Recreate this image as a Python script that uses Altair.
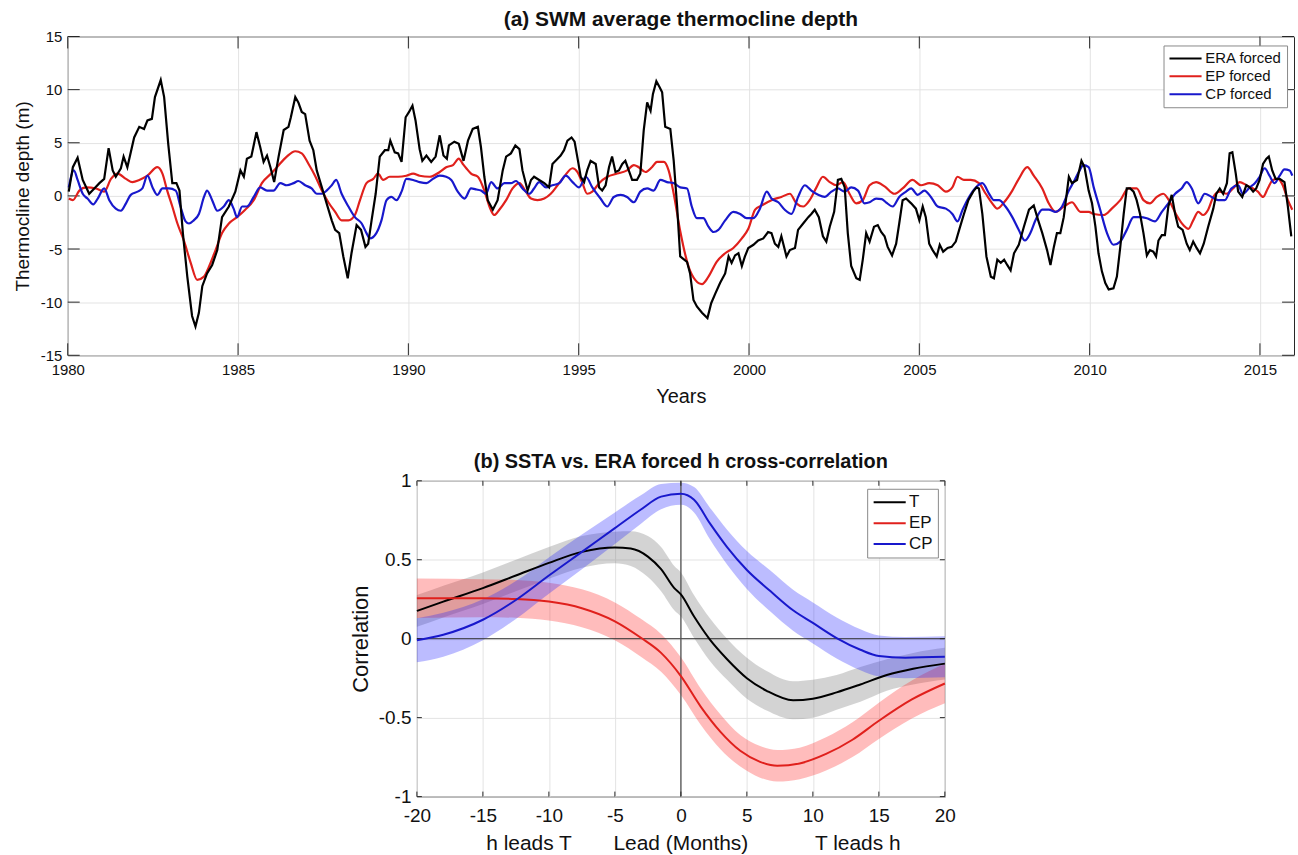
import altair as alt
import pandas as pd

FONT = "Liberation Sans"
INK = "#262626"
GRID = "#e3e3e3"
RED = "#e0201c"
BLUE = "#1818cc"

# ---------------- (a) SWM average thermocline depth ----------------
era_year = [
    1980.03, 1980.15, 1980.29, 1980.44, 1980.63, 1980.78, 1980.93, 1981.07, 1981.20, 1981.32,
    1981.41, 1981.56, 1981.64, 1981.75, 1981.95, 1982.10, 1982.24, 1982.34, 1982.47, 1982.56,
    1982.73, 1982.83, 1982.95, 1983.07, 1983.19, 1983.28, 1983.38, 1983.51, 1983.65, 1983.75,
    1983.85, 1983.95, 1984.09, 1984.24, 1984.39, 1984.53, 1984.73, 1984.92, 1985.07, 1985.17,
    1985.26, 1985.39, 1985.54, 1985.65, 1985.75, 1985.85, 1985.95, 1986.06, 1986.19, 1986.34,
    1986.48, 1986.55, 1986.68, 1986.77, 1986.87, 1986.97, 1987.10, 1987.21, 1987.31, 1987.46,
    1987.60, 1987.75, 1987.85, 1987.97, 1988.09, 1988.22, 1988.33, 1988.48, 1988.61, 1988.74,
    1988.82, 1988.92, 1989.04, 1989.16, 1989.31, 1989.41, 1989.47, 1989.60, 1989.70, 1989.80,
    1989.92, 1990.02, 1990.12, 1990.21, 1990.33, 1990.41, 1990.53, 1990.67, 1990.80, 1990.92,
    1991.03, 1991.13, 1991.19, 1991.35, 1991.48, 1991.62, 1991.75, 1991.89, 1992.04, 1992.13,
    1992.23, 1992.33, 1992.48, 1992.62, 1992.77, 1992.87, 1993.01, 1993.14, 1993.26, 1993.35,
    1993.50, 1993.60, 1993.69, 1993.84, 1993.99, 1994.13, 1994.23, 1994.38, 1994.47, 1994.57,
    1994.67, 1994.79, 1994.88, 1994.98, 1995.06, 1995.16, 1995.25, 1995.35, 1995.50, 1995.60,
    1995.69, 1995.79, 1995.89, 1995.98, 1996.08, 1996.18, 1996.28, 1996.37, 1996.47, 1996.57,
    1996.71, 1996.81, 1996.91, 1997.01, 1997.11, 1997.18, 1997.28, 1997.38, 1997.45, 1997.54,
    1997.69, 1997.79, 1997.89, 1997.98, 1998.18, 1998.27, 1998.37, 1998.47, 1998.62, 1998.78,
    1998.89, 1999.01, 1999.15, 1999.30, 1999.40, 1999.49, 1999.59, 1999.69, 1999.79, 1999.88,
    1999.98, 2000.13, 2000.27, 2000.42, 2000.56, 2000.66, 2000.76, 2000.86, 2000.95, 2001.10,
    2001.20, 2001.35, 2001.44, 2001.59, 2001.74, 2001.83, 2001.93, 2002.05, 2002.17, 2002.27,
    2002.37, 2002.50, 2002.61, 2002.71, 2002.81, 2002.90, 2003.00, 2003.15, 2003.25, 2003.34,
    2003.44, 2003.54, 2003.67, 2003.78, 2003.88, 2003.98, 2004.07, 2004.20, 2004.32, 2004.41,
    2004.51, 2004.61, 2004.76, 2004.90, 2005.00, 2005.10, 2005.19, 2005.29, 2005.39, 2005.51,
    2005.60, 2005.70, 2005.83, 2005.95, 2006.07, 2006.17, 2006.31, 2006.44, 2006.58, 2006.68,
    2006.75, 2006.85, 2006.97, 2007.10, 2007.19, 2007.29, 2007.39, 2007.49, 2007.58, 2007.68,
    2007.78, 2007.92, 2008.07, 2008.22, 2008.36, 2008.49, 2008.61, 2008.75, 2008.85, 2008.95,
    2009.04, 2009.14, 2009.24, 2009.39, 2009.48, 2009.63, 2009.76, 2009.85, 2009.97, 2010.07,
    2010.17, 2010.26, 2010.36, 2010.46, 2010.56, 2010.70, 2010.80, 2010.90, 2011.00, 2011.09,
    2011.19, 2011.29, 2011.38, 2011.48, 2011.58, 2011.68, 2011.77, 2011.87, 2011.95, 2012.02,
    2012.12, 2012.21, 2012.31, 2012.41, 2012.51, 2012.60, 2012.73, 2012.85, 2012.94, 2013.04,
    2013.14, 2013.24, 2013.35, 2013.48, 2013.63, 2013.72, 2013.82, 2013.92, 2014.03, 2014.11,
    2014.19, 2014.29, 2014.36, 2014.48, 2014.60, 2014.70, 2014.80, 2014.89, 2014.99, 2015.09,
    2015.19, 2015.26, 2015.36, 2015.46, 2015.58, 2015.72, 2015.82, 2015.92,
]
era_depth = [
    0.4, 2.7, 3.6, 1.5, 0.2, 0.7, 1.2, 1.6, 4.5, 2.4,
    1.8, 2.6, 3.7, 2.7, 5.5, 6.5, 6.3, 7.1, 7.25, 9.3,
    10.9, 9.3, 4.9, 1.2, 1.2, 0.5, -3.5, -7.6, -11.3, -12.3,
    -11.0, -8.5, -7.3, -6.5, -5.1, -2.0, -1.0, 0.4, 2.4, 1.8,
    3.5, 3.7, 6.0, 4.6, 3.2, 3.8, 2.7, 1.3, 3.7, 6.2,
    6.5, 7.4, 9.3, 8.8, 7.9, 7.7, 5.2, 4.3, 2.4, 0.8,
    -0.7, -2.3, -3.2, -3.5, -5.7, -7.75, -5.4, -2.75, -3.2, -4.8,
    -4.5, -2.3, 0.2, 3.7, 4.3, 4.3, 5.2, 4.1, 4.0, 3.2,
    7.4, 7.9, 8.5, 7.1, 4.4, 3.3, 3.8, 3.2, 3.7, 5.7,
    3.8, 3.5, 4.75, 5.1, 4.9, 3.3, 5.2, 6.3, 6.5, 4.6,
    1.8, -0.4, -1.3, -0.4, 2.4, 3.7, 4.0, 4.75, 4.4, 2.4,
    0.5, 1.5, 1.8, 1.5, 1.2, 0.8, 3.0, 3.5, 3.8, 4.3,
    5.2, 5.5, 5.1, 3.3, 1.8, 1.3, 2.4, 3.3, 3.0, 0.8,
    0.5, 1.0, 2.7, 3.7, 2.25, 2.4, 3.0, 3.3, 2.4, 1.5,
    1.5, 2.1, 6.2, 8.8, 8.0, 9.6, 10.8, 10.2, 9.75, 6.5,
    6.3, 3.3, -1.0, -5.7, -6.2, -7.3, -9.8, -10.4, -11.0, -11.5,
    -10.1, -9.2, -8.2, -7.3, -5.7, -6.3, -5.6, -5.4, -6.6, -5.7,
    -4.9, -4.6, -4.2, -4.0, -3.4, -3.5, -4.5, -4.8, -3.8, -5.7,
    -5.1, -4.9, -3.2, -2.6, -2.0, -1.7, -1.3, -2.0, -3.8, -4.3,
    -2.9, -1.5, 1.5, 1.6, 0.8, -3.5, -6.6, -7.75, -7.9, -6.0,
    -3.5, -4.3, -2.9, -2.75, -3.4, -3.8, -4.8, -5.6, -4.5, -2.6,
    -0.4, -0.25, -0.7, -1.2, -2.3, -1.0, -2.0, -4.5, -5.1, -5.7,
    -4.6, -5.25, -4.9, -4.8, -4.3, -3.2, -1.7, -0.4, 0.4, 0.8,
    0.7, -1.7, -5.7, -7.6, -7.75, -6.0, -6.3, -6.0, -6.5, -7.0,
    -5.4, -4.6, -2.9, -1.3, -0.9, -2.3, -3.5, -5.1, -6.5, -4.8,
    -3.5, -3.5, -2.0, 1.8, 1.2, 1.5, 3.3, 2.7, 0.5, -0.7,
    -2.9, -5.4, -7.1, -8.2, -8.8, -8.7, -7.6, -4.8, -1.7, 0.7,
    0.7, 0.4, -0.4, -1.7, -3.5, -5.6, -5.1, -5.25, -5.7, -4.2,
    -3.7, -3.7, -1.0, 0.1, -1.7, -2.9, -3.2, -4.5, -5.1, -4.3,
    -4.9, -5.4, -4.5, -2.9, -1.2, 0.2, 0.7, 0.2, 1.2, 4.0,
    4.1, 2.1, 0.4, -0.1, 1.0, 0.8, 0.4, 0.7, 1.5, 3.0,
    3.5, 3.7, 2.4, 1.6, 1.6, 1.3, -1.0, -3.8,
]

ep_year = [
    1980.03, 1980.15, 1980.34, 1980.54, 1980.83, 1981.07, 1981.27, 1981.46, 1981.71, 1981.90,
    1982.10, 1982.34, 1982.63, 1982.78, 1982.92, 1983.07, 1983.22, 1983.41, 1983.61, 1983.80,
    1984.00, 1984.14, 1984.34, 1984.53, 1984.73, 1984.97, 1985.21, 1985.46, 1985.70, 1985.97,
    1986.14, 1986.43, 1986.68, 1986.87, 1987.07, 1987.26, 1987.46, 1987.65, 1987.85, 1988.04,
    1988.24, 1988.43, 1988.58, 1988.77, 1988.97, 1989.11, 1989.26, 1989.45, 1989.70, 1989.94,
    1990.14, 1990.33, 1990.62, 1990.92, 1991.11, 1991.31, 1991.48, 1991.60, 1991.70, 1991.84,
    1992.04, 1992.23, 1992.38, 1992.52, 1992.67, 1992.87, 1993.06, 1993.26, 1993.45, 1993.60,
    1993.79, 1993.99, 1994.18, 1994.38, 1994.57, 1994.82, 1994.96, 1995.11, 1995.25, 1995.40,
    1995.60, 1995.84, 1996.13, 1996.42, 1996.62, 1996.76, 1996.96, 1997.15, 1997.30, 1997.50,
    1997.64, 1997.79, 1997.98, 1998.23, 1998.42, 1998.62, 1998.81, 1999.05, 1999.30, 1999.54,
    1999.79, 1999.98, 2000.18, 2000.37, 2000.66, 2000.95, 2001.20, 2001.39, 2001.59, 2001.78,
    2001.98, 2002.17, 2002.37, 2002.56, 2002.76, 2002.95, 2003.15, 2003.34, 2003.54, 2003.73,
    2003.98, 2004.27, 2004.51, 2004.80, 2005.05, 2005.29, 2005.54, 2005.78, 2005.97, 2006.12,
    2006.31, 2006.51, 2006.75, 2006.95, 2007.14, 2007.29, 2007.49, 2007.73, 2007.92, 2008.17,
    2008.36, 2008.61, 2008.80, 2009.00, 2009.24, 2009.48, 2009.73, 2009.97, 2010.12, 2010.41,
    2010.65, 2010.90, 2011.14, 2011.38, 2011.58, 2011.77, 2011.97, 2012.16, 2012.36, 2012.55,
    2012.75, 2012.90, 2013.04, 2013.19, 2013.33, 2013.48, 2013.63, 2013.82, 2014.02, 2014.21,
    2014.41, 2014.60, 2014.80, 2014.94, 2015.09, 2015.23, 2015.38, 2015.53, 2015.67, 2015.82,
    2015.95,
]
ep_depth = [
    -0.25, -0.4, 0.5, 0.8, 0.7, 0.4, 1.6, 2.1, 1.6, 1.3,
    1.5, 1.9, 2.7, 2.1, 0.5, -1.0, -2.6, -4.2, -6.3, -7.9,
    -7.6, -6.7, -5.1, -3.5, -2.6, -2.0, -1.3, -0.4, 1.2, 2.1,
    2.7, 3.7, 4.2, 4.0, 3.0, 1.9, 0.5, -0.6, -1.5, -2.3,
    -2.3, -1.8, -0.4, 1.2, 1.6, 2.1, 1.5, 1.8, 1.8, 1.9,
    2.1, 1.9, 1.8, 2.25, 2.7, 2.9, 3.5, 3.0, 2.6, 2.1,
    1.8, 0.5, -1.0, -1.8, -1.3, -0.4, 0.7, 1.2, 0.4, -0.25,
    -0.4, -0.25, 0.2, 1.0, 1.8, 2.6, 2.25, 1.2, 0.2, 0.4,
    1.2, 1.8, 2.1, 2.4, 2.9, 2.7, 2.25, 2.7, 3.2, 3.2,
    2.4, 0.2, -3.3, -6.7, -7.9, -8.3, -7.6, -6.2, -5.4, -4.9,
    -4.0, -3.1, -1.3, -0.9, -0.4, -0.1, 0.2, -0.7, -1.0, -0.4,
    0.8, 1.8, 1.3, 1.0, 1.3, 0.2, -0.7, -0.4, 1.0, 1.3,
    0.9, 0.2, 0.7, 1.5, 1.0, 1.2, 1.0, 0.4, 0.8, 1.8,
    1.5, 1.5, 1.2, 0.2, -0.7, -1.2, -0.6, 0.5, 1.6, 2.7,
    1.9, 0.7, -0.7, -1.5, -1.0, -0.6, -1.5, -1.5, -1.7, -1.8,
    -1.2, -0.4, 0.7, 0.7, -0.4, -0.7, -0.1, 0.2, -0.6, -1.8,
    -2.75, -3.1, -2.3, -1.5, -1.8, -1.3, -0.1, 0.4, 0.2, 0.7,
    1.3, 1.0, 0.7, 0.4, -0.1, 0.7, 1.5, 1.6, 1.0, -0.4,
    -1.3,
]

cp_year = [
    1980.03, 1980.18, 1980.29, 1980.44, 1980.58, 1980.75, 1980.88, 1981.07, 1981.22, 1981.41,
    1981.56, 1981.71, 1981.85, 1982.05, 1982.19, 1982.34, 1982.49, 1982.63, 1982.78, 1982.97,
    1983.17, 1983.31, 1983.46, 1983.56, 1983.70, 1983.85, 1984.00, 1984.09, 1984.24, 1984.39,
    1984.58, 1984.73, 1984.87, 1984.97, 1985.12, 1985.26, 1985.46, 1985.65, 1985.85, 1986.04,
    1986.24, 1986.43, 1986.63, 1986.77, 1986.97, 1987.16, 1987.31, 1987.46, 1987.60, 1987.75,
    1987.88, 1988.04, 1988.24, 1988.43, 1988.63, 1988.77, 1988.87, 1989.06, 1989.21, 1989.36,
    1989.50, 1989.65, 1989.80, 1989.94, 1990.14, 1990.33, 1990.53, 1990.72, 1990.92, 1991.11,
    1991.26, 1991.45, 1991.65, 1991.84, 1992.00, 1992.13, 1992.28, 1992.43, 1992.62, 1992.82,
    1993.01, 1993.16, 1993.35, 1993.55, 1993.69, 1993.84, 1994.04, 1994.23, 1994.43, 1994.62,
    1994.82, 1995.01, 1995.21, 1995.40, 1995.64, 1995.84, 1996.03, 1996.23, 1996.42, 1996.62,
    1996.81, 1997.01, 1997.20, 1997.40, 1997.59, 1997.79, 1997.98, 1998.18, 1998.32, 1998.47,
    1998.66, 1998.81, 1998.96, 1999.10, 1999.30, 1999.54, 1999.74, 1999.93, 2000.13, 2000.32,
    2000.52, 2000.66, 2000.86, 2001.05, 2001.25, 2001.44, 2001.64, 2001.83, 2002.03, 2002.22,
    2002.42, 2002.61, 2002.81, 2003.00, 2003.20, 2003.39, 2003.54, 2003.73, 2003.90, 2004.02,
    2004.22, 2004.41, 2004.61, 2004.76, 2004.95, 2005.15, 2005.34, 2005.54, 2005.78, 2005.97,
    2006.12, 2006.27, 2006.46, 2006.66, 2006.85, 2007.05, 2007.19, 2007.34, 2007.53, 2007.73,
    2007.92, 2008.10, 2008.26, 2008.41, 2008.61, 2008.80, 2009.00, 2009.19, 2009.39, 2009.53,
    2009.68, 2009.82, 2009.97, 2010.12, 2010.31, 2010.51, 2010.70, 2010.90, 2011.09, 2011.29,
    2011.48, 2011.68, 2011.92, 2012.12, 2012.31, 2012.51, 2012.70, 2012.85, 2013.00, 2013.19,
    2013.38, 2013.58, 2013.77, 2013.97, 2014.16, 2014.36, 2014.50, 2014.70, 2014.85, 2014.99,
    2015.14, 2015.28, 2015.43, 2015.58, 2015.72, 2015.87, 2015.95,
]
cp_depth = [
    0.8, 2.4, 1.5, 0.2, -0.25, -0.8, -0.25, 0.7, -0.4, -1.2,
    -1.4, -0.7, 0.1, 0.4, 0.7, 1.9, 0.8, 0.1, 0.7, 0.7,
    0.5, -1.0, -2.4, -2.6, -2.3, -1.7, -0.1, 0.5, -0.4, -1.4,
    -1.0, -0.4, -1.2, -2.0, -1.0, -1.0, -0.1, 0.8, 0.5, 0.5,
    1.2, 1.0, 1.2, 1.4, 1.0, 0.7, 0.2, 0.2, 0.5, 1.0,
    1.5, 0.2, -1.0, -2.0, -2.6, -3.5, -4.0, -3.5, -2.3, -0.4,
    -0.1, -0.4, 0.4, 1.6, 1.5, 1.3, 1.2, 1.6, 1.9, 1.8,
    1.5, 0.4, -0.25, 0.7, 0.6, 0.5, 0.2, 1.3, 0.7, 1.2,
    1.2, 1.4, 0.7, 0.2, 0.7, 1.3, 0.8, 1.0, 1.2, 1.9,
    1.3, 0.8, 1.8, 0.8, -0.25, -1.0, -0.1, 0.1, -0.1, -0.6,
    0.4, 0.7, 0.5, 1.5, 1.3, 1.2, 0.8, 0.7, -1.0, -2.1,
    -2.1, -2.9, -3.4, -3.2, -2.3, -1.5, -1.7, -2.1, -2.1, -1.2,
    0.4, -0.25, -0.6, -1.3, -1.7, -0.1, 1.0, 0.5, 0.1, -0.1,
    0.4, 0.7, 0.4, 0.8, 0.5, -0.7, -0.6, -0.25, -0.3, -0.6,
    -1.0, -0.1, 0.4, 0.7, 0.1, 0.5, -0.1, -1.0, -1.2, -1.7,
    -2.4, -1.3, -0.1, 0.8, 1.2, 0.2, -0.4, -0.4, -1.0, -2.0,
    -3.2, -4.2, -3.5, -2.3, -1.3, -1.3, -1.5, -1.0, 0.5, 1.3,
    2.25, 2.9, 2.7, 0.8, -1.3, -3.5, -4.6, -4.3, -3.2, -2.0,
    -2.0, -2.1, -2.4, -1.5, -0.7, 0.2, 0.7, 1.3, 0.7, -0.7,
    0.2, -0.1, -0.4, -0.4, 0.7, 1.0, 0.2, 0.8, 1.2, 1.8,
    2.6, 1.9, 1.2, 1.9, 2.5, 2.4, 1.9,
]

depth_series = ["ERA forced", "EP forced", "CP forced"]
depth_colors = ["#000000", RED, BLUE]
year_ticks = [1980, 1985, 1990, 1995, 2000, 2005, 2010, 2015]
depth_ticks = [-15, -10, -5, 0, 5, 10, 15]

# ---------------- (b) SSTA vs. ERA forced h cross-correlation ----------------
t_lag = [-20, -18, -15, -12.5, -10, -7.5, -5, -3.8, -2.5, -1.5, -0.5, 0, 1, 2.2,
         3.5, 5, 6.5, 8.5, 10, 11.8, 13.6, 15.6, 17.6, 20]
t_corr = [0.176, 0.235, 0.32, 0.40, 0.48, 0.55, 0.578, 0.571, 0.52, 0.44, 0.32, 0.28, 0.14, -0.006,
          -0.13, -0.25, -0.33, -0.39, -0.38, -0.34, -0.29, -0.23, -0.19, -0.158]
t_spread = [0.10, 0.10, 0.10, 0.10, 0.10, 0.10, 0.10, 0.11, 0.13, 0.14, 0.14, 0.14, 0.135, 0.135,
            0.13, 0.13, 0.125, 0.12, 0.12, 0.11, 0.11, 0.10, 0.10, 0.10]

ep_lag = [-20, -15, -12.5, -10, -7.5, -5, -3, -1.5, 0, 1.5, 3, 4.5, 6, 7.3, 9, 11, 13, 15, 17.5, 20]
ep_corr = [0.256, 0.256, 0.252, 0.235, 0.193, 0.11, 0.004, -0.09, -0.237, -0.43, -0.59, -0.71,
           -0.78, -0.805, -0.79, -0.73, -0.64, -0.52, -0.385, -0.284]
ep_spread = [0.125, 0.12, 0.12, 0.12, 0.12, 0.12, 0.12, 0.12, 0.12, 0.115, 0.11, 0.10,
             0.10, 0.10, 0.10, 0.105, 0.11, 0.115, 0.12, 0.125]

cp_lag = [-20, -18, -15, -12.5, -10, -7.5, -5, -3, -1.5, 0, 1, 2.2, 3.5, 5, 6.8, 8.5, 10,
          11.8, 13.6, 15, 17, 20]
cp_corr = [-0.01, 0.025, 0.12, 0.245, 0.40, 0.55, 0.70, 0.82, 0.90, 0.918, 0.88, 0.73, 0.58,
           0.435, 0.30, 0.18, 0.10, 0.004, -0.07, -0.11, -0.12, -0.115]
cp_spread = [0.14, 0.14, 0.13, 0.12, 0.115, 0.11, 0.10, 0.09, 0.08, 0.07, 0.08, 0.10, 0.11,
             0.12, 0.13, 0.13, 0.13, 0.13, 0.13, 0.13, 0.13, 0.13]

corr_series = ["T", "EP", "CP"]
corr_colors = ["#000000", RED, BLUE]
band_colors = {"T": "#6e6e6e", "EP": "#ff2020", "CP": "#2020ff"}
lag_ticks = [-20, -15, -10, -5, 0, 5, 10, 15, 20]
corr_ticks = [-1, -0.5, 0, 0.5, 1]
lead_labels = ["h leads T", "Lead (Months)", "T leads h"]
lead_label_lag = [-11.5, 0, 13.4]

# ---------------- tables ----------------
depth_df = pd.concat([
    pd.DataFrame({"year": era_year, "depth": era_depth, "series": "ERA forced"}),
    pd.DataFrame({"year": ep_year, "depth": ep_depth, "series": "EP forced"}),
    pd.DataFrame({"year": cp_year, "depth": cp_depth, "series": "CP forced"}),
], ignore_index=True)


def band_frame(lag, corr, spread):
    return pd.DataFrame({
        "lag": lag,
        "lo": [c - s for c, s in zip(corr, spread)],
        "hi": [c + s for c, s in zip(corr, spread)],
    })


corr_df = pd.concat([
    pd.DataFrame({"lag": t_lag, "corr": t_corr, "series": "T"}),
    pd.DataFrame({"lag": ep_lag, "corr": ep_corr, "series": "EP"}),
    pd.DataFrame({"lag": cp_lag, "corr": cp_corr, "series": "CP"}),
], ignore_index=True)
band_tables = {
    "T": band_frame(t_lag, t_corr, t_spread),
    "EP": band_frame(ep_lag, ep_corr, ep_spread),
    "CP": band_frame(cp_lag, cp_corr, cp_spread),
}

# line-style legend swatch: a stroke that runs long to the right of the symbol slot
SWATCH = "M-1,0H3.6"

# ---------------- panel (a) ----------------
W_A, H_A = 1231, 320
TICK_A = 12

x_a = alt.X("year:Q", scale=alt.Scale(domain=[1980, 2016], nice=False, zero=False),
            axis=alt.Axis(values=year_ticks, labelExpr="'' + datum.value", title="Years",
                          labelFontSize=15, labelPadding=7, labelFlush=False,
                          titleFontSize=20, titlePadding=9))
y_a = alt.Y("depth:Q", scale=alt.Scale(domain=[-15, 15], nice=False),
            axis=alt.Axis(values=depth_ticks, labelExpr="'' + datum.value",
                          title="Thermocline depth (m)", labelFontSize=15, labelPadding=6,
                          labelFlush=False, titleFontSize=19, titlePadding=8))
color_a = alt.Color("series:N", scale=alt.Scale(domain=depth_series, range=depth_colors),
                    legend=alt.Legend(orient="none", legendX=1100, legendY=9, title=None,
                                      symbolType=SWATCH, symbolStrokeWidth=2, symbolSize=196,
                                      labelFont=FONT, labelFontSize=15, labelColor="#111",
                                      strokeColor="#8a8a8a", fillColor="white", padding=5,
                                      rowPadding=2, labelOffset=21))

era_line = alt.Chart(depth_df).transform_filter(alt.datum.series == "ERA forced").mark_line(
    strokeWidth=2.2).encode(x=x_a, y=y_a, color=color_a, order="year:Q")
model_lines = alt.Chart(depth_df).transform_filter(alt.datum.series != "ERA forced").mark_line(
    strokeWidth=2.2, interpolate="monotone").encode(x=x_a, y=y_a, color=color_a, order="year:Q")

year_tick_df = pd.DataFrame({"year": year_ticks})
depth_tick_df = pd.DataFrame({"depth": depth_ticks})
tick_a = [
    alt.Chart(year_tick_df).mark_rule(color=INK, strokeWidth=1).encode(
        x=x_a, y=alt.value(H_A), y2=alt.value(H_A - TICK_A)),
    alt.Chart(year_tick_df).mark_rule(color=INK, strokeWidth=1).encode(
        x=x_a, y=alt.value(0), y2=alt.value(TICK_A)),
    alt.Chart(depth_tick_df).mark_rule(color=INK, strokeWidth=1).encode(
        y=y_a, x=alt.value(0), x2=alt.value(TICK_A)),
    alt.Chart(depth_tick_df).mark_rule(color=INK, strokeWidth=1).encode(
        y=y_a, x=alt.value(W_A - TICK_A), x2=alt.value(W_A)),
]

panel_a = alt.layer(*tick_a, model_lines, era_line).properties(
    width=W_A, height=H_A,
    title=alt.TitleParams("(a) SWM average thermocline depth", font=FONT, fontSize=21,
                          fontWeight="bold", anchor="middle", frame="group", offset=0,
                          color="#111"),
)

# ---------------- panel (b) ----------------
W_B, H_B = 530, 317
TICK_B = 5

corr_scale = alt.Scale(domain=[-1, 1], nice=False)
x_b = alt.X("lag:Q", scale=alt.Scale(domain=[-20, 20], nice=False, zero=False),
            axis=alt.Axis(values=lag_ticks, labelExpr="'' + datum.value", title=None,
                          labelFontSize=19, labelPadding=10, labelFlush=False))
corr_axis = alt.Axis(values=corr_ticks, labelExpr="'' + datum.value", title="Correlation",
                     labelFontSize=19, labelPadding=6, labelFlush=False,
                     titleFontSize=22, titlePadding=6)
y_b = alt.Y("corr:Q", scale=corr_scale, axis=corr_axis)
color_b = alt.Color("series:N", scale=alt.Scale(domain=corr_series, range=corr_colors),
                    legend=alt.Legend(orient="none", legendX=452, legendY=8, title=None,
                                      symbolType=SWATCH, symbolStrokeWidth=2, symbolSize=196,
                                      labelFont=FONT, labelFontSize=17, labelColor="#111",
                                      strokeColor="#8a8a8a", fillColor="white", padding=5,
                                      rowPadding=3, labelOffset=20))

# shaded uncertainty envelopes, one area per series
bands = [
    alt.Chart(band_tables[name]).mark_area(
        fill=band_colors[name], fillOpacity=0.3, strokeOpacity=0, interpolate="monotone").encode(
        x=x_b,
        y=alt.Y("hi:Q", scale=corr_scale, axis=corr_axis),
        y2=alt.Y2("lo:Q"),
    )
    for name in corr_series
]
corr_lines = alt.Chart(corr_df).mark_line(strokeWidth=2, interpolate="monotone").encode(
    x=x_b, y=y_b, color=color_b, order="lag:Q")

zero_corr = alt.Chart(pd.DataFrame({"corr": [0]})).mark_rule(color="#333333", strokeWidth=1).encode(y=y_b)
zero_lag = alt.Chart(pd.DataFrame({"lag": [0]})).mark_rule(color="#555555", strokeWidth=1.3).encode(x=x_b)

lag_tick_df = pd.DataFrame({"lag": lag_ticks})
corr_tick_df = pd.DataFrame({"corr": corr_ticks})
tick_b = [
    alt.Chart(lag_tick_df).mark_rule(color=INK, strokeWidth=1).encode(
        x=x_b, y=alt.value(H_B), y2=alt.value(H_B - TICK_B)),
    alt.Chart(lag_tick_df).mark_rule(color=INK, strokeWidth=1).encode(
        x=x_b, y=alt.value(0), y2=alt.value(TICK_B)),
    alt.Chart(corr_tick_df).mark_rule(color=INK, strokeWidth=1).encode(
        y=y_b, x=alt.value(0), x2=alt.value(TICK_B)),
    alt.Chart(corr_tick_df).mark_rule(color=INK, strokeWidth=1).encode(
        y=y_b, x=alt.value(W_B - TICK_B), x2=alt.value(W_B)),
]

lead_text = alt.Chart(pd.DataFrame({"lag": lead_label_lag, "label": lead_labels})).mark_text(
    font=FONT, fontSize=21, color="#111", baseline="middle", align="center").encode(
    x=x_b, y=alt.value(H_B + 48), text="label:N")

panel_b = alt.layer(*bands, zero_corr, zero_lag, *tick_b, corr_lines, lead_text).properties(
    width=W_B, height=H_B,
    title=alt.TitleParams("(b) SSTA vs. ERA forced h cross-correlation", font=FONT, fontSize=20,
                          fontWeight="bold", anchor="middle", frame="group", offset=0,
                          color="#111"),
)

chart = alt.vconcat(panel_a, panel_b, spacing=126, bounds="flush", center=True).resolve_scale(
    color="independent",
).properties(
    padding={"left": 12, "top": 6, "right": 0, "bottom": 0},
    background="white",
).configure_view(
    stroke=INK, strokeWidth=1,
).configure_axis(
    domain=False, ticks=False, grid=True, gridColor=GRID, gridWidth=1,
    labelFont=FONT, titleFont=FONT, labelColor="#111", titleColor="#111",
    titleFontWeight="normal",
)

chart.save("out.html", embed_options={"renderer": "svg", "actions": False})
